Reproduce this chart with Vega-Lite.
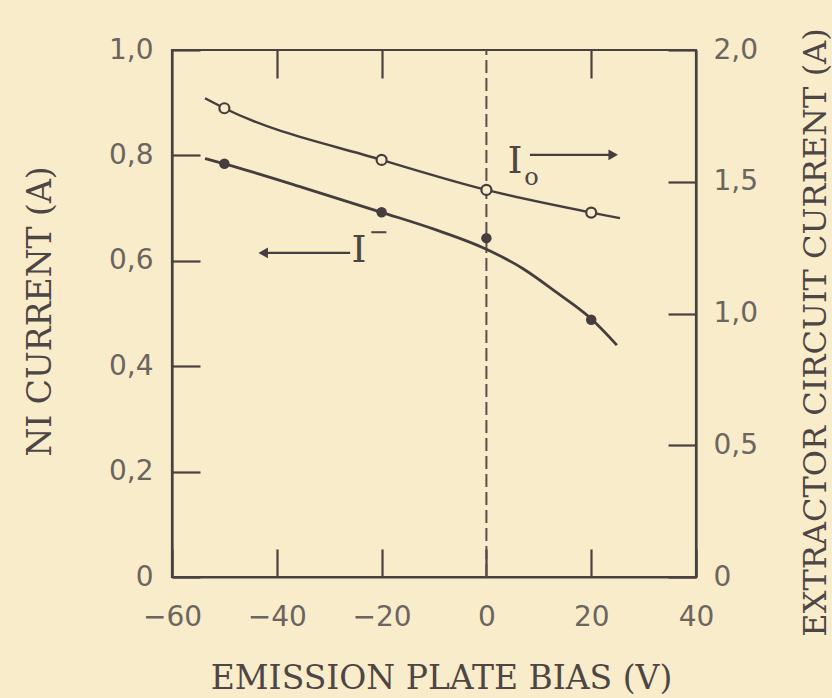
{
  "$schema": "https://vega.github.io/schema/vega-lite/v6.json",
  "autosize": {"type": "none"},
  "width": 524,
  "height": 527,
  "padding": {"left": 172, "top": 50, "right": 136, "bottom": 121},
  "background": "#f9ecca",
  "config": {
    "view": {"stroke": "#4a4040", "strokeWidth": 2.2},
    "axis": {
      "grid": false,
      "domainColor": "#4a4040",
      "domainWidth": 2.2,
      "tickColor": "#4a4040",
      "tickWidth": 2.2,
      "labelFont": "DejaVu Sans",
      "labelFontSize": 28,
      "labelColor": "#6b6560",
      "labelFlush": false,
      "titleFont": "DejaVu Serif",
      "titleFontSize": 33,
      "titleFontWeight": "normal",
      "titleColor": "#4e4644"
    }
  },
  "datasets": {
    "iminus_pts": [
      {"bias": -50, "current": 0.784},
      {"bias": -20, "current": 0.692},
      {"bias": 0, "current": 0.643},
      {"bias": 20, "current": 0.488}
    ],
    "iminus_curve": [
      {"bias": -53.7, "current": 0.794},
      {"bias": -50, "current": 0.784},
      {"bias": -35, "current": 0.739},
      {"bias": -20, "current": 0.692},
      {"bias": -10, "current": 0.660},
      {"bias": 0, "current": 0.622},
      {"bias": 7, "current": 0.585},
      {"bias": 13.4, "current": 0.540},
      {"bias": 20, "current": 0.490},
      {"bias": 24.9, "current": 0.440}
    ],
    "i0_pts": [
      {"bias": -50, "current": 1.779},
      {"bias": -20, "current": 1.583},
      {"bias": 0, "current": 1.469},
      {"bias": 20, "current": 1.383}
    ],
    "i0_curve": [
      {"bias": -53.7, "current": 1.817},
      {"bias": -50, "current": 1.779},
      {"bias": -20, "current": 1.583},
      {"bias": 0, "current": 1.469},
      {"bias": 20, "current": 1.383},
      {"bias": 25.5, "current": 1.362}
    ],
    "arrows": [
      {"label": "I0", "x1": 8.3, "x2": 24.2, "y": 0.801},
      {"label": "I-", "x1": -26.0, "x2": -42.6, "y": 0.615}
    ],
    "labels_big": [
      {"text": "I", "bias": 5.46, "current": 0.787},
      {"text": "I", "bias": -24.3, "current": 0.619}
    ],
    "labels_small": [
      {"text": "o", "bias": 8.6, "current": 0.758},
      {"text": "−", "bias": -20.6, "current": 0.652}
    ],
    "zero_line": [{"bias": 0, "lo": 0, "hi": 1}]
  },
  "resolve": {"scale": {"y": "independent"}},
  "layer": [
    {
      "data": {"name": "zero_line"},
      "mark": {"type": "rule", "strokeDash": [13, 5], "strokeWidth": 2, "color": "#5a4e4c"},
      "encoding": {
        "x": {
          "field": "bias", "type": "quantitative",
          "scale": {"domain": [-60, 40], "nice": false, "zero": false},
          "axis": {
            "orient": "bottom",
            "values": [-60, -40, -20, 0, 20, 40],
            "tickSize": -28,
            "labelPadding": 54,
            "title": "EMISSION PLATE BIAS (V)",
            "titleX": 269,
            "titleY": 101,
            "titleBaseline": "middle",
            "titleAlign": "center"
          }
        },
        "y": {
          "field": "lo", "type": "quantitative",
          "scale": {"domain": [0, 1], "nice": false},
          "axis": {
            "orient": "left",
            "values": [0, 0.2, 0.4, 0.6, 0.8, 1.0],
            "tickSize": -28,
            "labelPadding": 47,
            "labelExpr": "datum.value == 0 ? '0' : replace(format(datum.value, '.1f'), '.', ',')",
            "title": "NI CURRENT (A)",
            "titleAngle": -90,
            "titleX": -132,
            "titleY": 261,
            "titleBaseline": "middle",
            "titleAlign": "center"
          }
        },
        "y2": {"field": "hi"}
      }
    },
    {
      "data": {"name": "i0_curve"},
      "mark": {"type": "line", "interpolate": "monotone", "strokeWidth": 2.4, "color": "#463e3e"},
      "encoding": {
        "x": {
          "field": "bias", "type": "quantitative",
          "axis": {
            "orient": "top",
            "values": [-40, -20, 20],
            "offset": -28,
            "domain": false,
            "tickSize": 28,
            "labels": false,
            "title": null
          }
        },
        "y": {
          "field": "current", "type": "quantitative",
          "scale": {"domain": [0, 2], "nice": false},
          "axis": {
            "orient": "right",
            "values": [0, 0.5, 1.0, 1.5, 2.0],
            "tickSize": -28,
            "labelPadding": 45,
            "labelExpr": "datum.value == 0 ? '0' : replace(format(datum.value, '.1f'), '.', ',')",
            "title": "EXTRACTOR CIRCUIT CURRENT (A)",
            "titleFontSize": 32,
            "titleAngle": -90,
            "titleX": 119,
            "titleY": 282,
            "titleBaseline": "middle",
            "titleAlign": "center"
          }
        }
      }
    },
    {
      "data": {"name": "i0_pts"},
      "mark": {"type": "point", "shape": "circle", "filled": true, "fill": "#f9ecca", "stroke": "#463e3e", "strokeWidth": 2.2, "size": 100, "opacity": 1},
      "encoding": {
        "x": {"field": "bias", "type": "quantitative", "axis": null},
        "y": {"field": "current", "type": "quantitative", "scale": {"domain": [0, 2], "nice": false}, "axis": null}
      }
    },
    {
      "data": {"name": "iminus_curve"},
      "mark": {"type": "line", "interpolate": "monotone", "strokeWidth": 2.8, "color": "#463e3e"},
      "encoding": {
        "x": {"field": "bias", "type": "quantitative", "axis": null},
        "y": {"field": "current", "type": "quantitative", "scale": {"domain": [0, 1], "nice": false}, "axis": null}
      }
    },
    {
      "data": {"name": "iminus_pts"},
      "mark": {"type": "point", "shape": "circle", "filled": true, "size": 110, "color": "#463e3e", "opacity": 1},
      "encoding": {
        "x": {"field": "bias", "type": "quantitative", "axis": null},
        "y": {"field": "current", "type": "quantitative", "scale": {"domain": [0, 1], "nice": false}, "axis": null}
      }
    },
    {
      "data": {"name": "arrows"},
      "mark": {"type": "rule", "strokeWidth": 2.2, "color": "#463e3e"},
      "encoding": {
        "x": {"field": "x1", "type": "quantitative", "axis": null},
        "x2": {"field": "x2"},
        "y": {"field": "y", "type": "quantitative", "scale": {"domain": [0, 1], "nice": false}, "axis": null}
      }
    },
    {
      "data": {"name": "arrows"},
      "mark": {"type": "point", "filled": true, "size": 120, "color": "#463e3e", "opacity": 1},
      "encoding": {
        "x": {"field": "x2", "type": "quantitative", "axis": null},
        "y": {"field": "y", "type": "quantitative", "scale": {"domain": [0, 1], "nice": false}, "axis": null},
        "shape": {"field": "label", "type": "nominal", "scale": {"domain": ["I0", "I-"], "range": ["triangle-right", "triangle-left"]}, "legend": null}
      }
    },
    {
      "data": {"name": "labels_big"},
      "mark": {"type": "text", "font": "DejaVu Serif", "fontSize": 38, "color": "#4e4644", "align": "center", "baseline": "middle"},
      "encoding": {
        "x": {"field": "bias", "type": "quantitative", "axis": null},
        "y": {"field": "current", "type": "quantitative", "scale": {"domain": [0, 1], "nice": false}, "axis": null},
        "text": {"field": "text"}
      }
    },
    {
      "data": {"name": "labels_small"},
      "mark": {"type": "text", "font": "DejaVu Serif", "fontSize": 24, "color": "#4e4644", "align": "center", "baseline": "middle"},
      "encoding": {
        "x": {"field": "bias", "type": "quantitative", "axis": null},
        "y": {"field": "current", "type": "quantitative", "scale": {"domain": [0, 1], "nice": false}, "axis": null},
        "text": {"field": "text"}
      }
    }
  ]
}
